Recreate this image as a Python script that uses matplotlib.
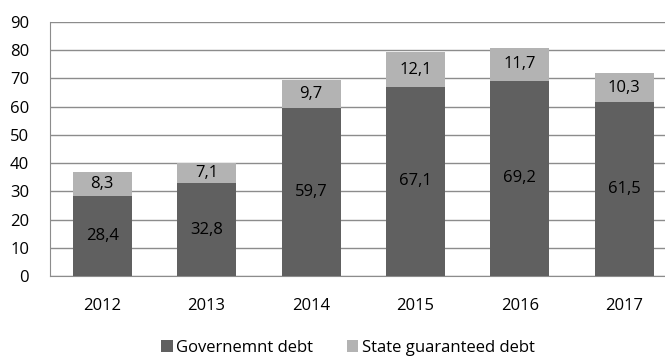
import numpy as np
import matplotlib.pyplot as plt

years = ['2012', '2013', '2014', '2015', '2016', '2017']
gov_debt = [28.4, 32.8, 59.7, 67.1, 69.2, 61.5]
guaranteed_debt = [8.3, 7.1, 9.7, 12.1, 11.7, 10.3]

plt.rcParams['font.family'] = ['Open Sans', 'DejaVu Sans']
fs = 12

fig = plt.figure(figsize=(6.65, 3.56), dpi=100)
ax = fig.add_axes([50 / 665, 80 / 356, 615 / 665, 254 / 356])

x = np.arange(len(years))
w = 0.565
dark = '#606060'
light = '#b3b3b3'

b1 = ax.bar(x, gov_debt, w, color=dark, label='Governemnt debt', zorder=3)
b2 = ax.bar(x, guaranteed_debt, w, bottom=gov_debt, color=light,
            label='State guaranteed debt', zorder=3)

# value labels in the middle of each segment, comma as decimal mark
fmt = lambda v: f'{v:.1f}'.replace('.', ',')
for i in range(len(years)):
    ax.text(x[i], gov_debt[i] / 2, fmt(gov_debt[i]), ha='center', va='center',
            fontsize=fs, color='black', zorder=4)
    ax.text(x[i], gov_debt[i] + guaranteed_debt[i] / 2, fmt(guaranteed_debt[i]),
            ha='center', va='center', fontsize=fs, color='black', zorder=4)

ax.set_ylim(0, 90)
ax.set_yticks(range(0, 91, 10))
ax.set_xlim(-0.5, 5.39)
ax.set_xticks(x)
ax.set_xticklabels(years)
ax.yaxis.grid(True, color='#8c8c8c', linewidth=1)
ax.set_axisbelow(True)
for s in ['top', 'right']:
    ax.spines[s].set_visible(False)
ax.spines['left'].set_color('#8c8c8c')
ax.spines['bottom'].set_color('#8c8c8c')
ax.tick_params(axis='both', length=0, labelsize=fs, colors='black')
ax.tick_params(axis='x', pad=16)
ax.tick_params(axis='y', pad=15)

fig.legend(handles=[b1, b2], loc='center', bbox_to_anchor=(348 / 665, 1 - 348 / 356),
           ncol=2, frameon=False, fontsize=fs, handlelength=0.7, handleheight=0.7,
           handletextpad=0.2, columnspacing=2.0)

fig.savefig('out.png', dpi=100)
